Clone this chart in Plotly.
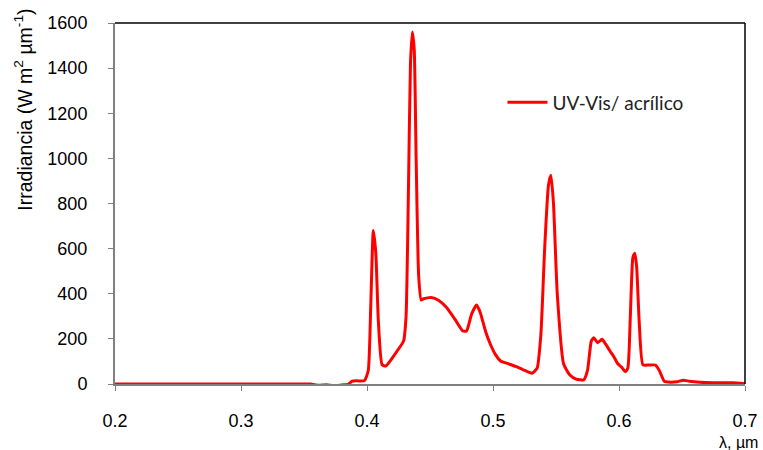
import plotly.graph_objects as go

wavelength = [0.20, 0.25, 0.30, 0.34, 0.355, 0.362, 0.368, 0.374, 0.380, 0.385, 0.388, 0.392, 0.398,
              0.401, 0.403, 0.405, 0.407, 0.409, 0.412, 0.415, 0.420, 0.425, 0.429, 0.431, 0.433,
              0.4345, 0.436, 0.4375, 0.439, 0.441, 0.443, 0.445, 0.451, 0.457, 0.463, 0.470, 0.476, 0.479, 0.483,
              0.487, 0.490, 0.494, 0.498, 0.502, 0.506, 0.512, 0.518, 0.524, 0.531, 0.535, 0.538,
              0.541, 0.544, 0.546, 0.548, 0.551, 0.556, 0.561, 0.566, 0.572, 0.575, 0.578, 0.580,
              0.583, 0.5865, 0.589, 0.593, 0.596, 0.599, 0.602, 0.605, 0.607, 0.609, 0.611, 0.6125,
              0.614, 0.616, 0.619, 0.624, 0.629, 0.632, 0.636, 0.641, 0.646, 0.651, 0.656, 0.664,
              0.675, 0.690, 0.700]
irradiance = [0, 0, 0, 0, 0, -6, -3, -8, -4, -2, 12, 14, 15,
              60, 350, 680, 580, 280, 85, 80, 115, 155, 190, 300, 900,
              1420, 1560, 1480, 1000, 480, 372, 378, 383, 370, 340, 285, 235, 235, 310,
              350, 315, 235, 175, 130, 102, 90, 78, 63, 48, 70, 220,
              600, 880, 925, 800, 400, 90, 40, 22, 18, 60, 190, 205,
              183, 198, 180, 145, 120, 90, 75, 55, 70, 300, 560, 580,
              520, 280, 85, 84, 84, 60, 12, 8, 10, 17, 12, 8,
              6, 5, 1]

series_name = "UV-Vis/ acrílico"
x_ticks = [0.2, 0.3, 0.4, 0.5, 0.6, 0.7]
y_ticks = [0, 200, 400, 600, 800, 1000, 1200, 1400, 1600]

fig = go.Figure()
fig.add_trace(go.Scatter(
    x=wavelength, y=irradiance, mode="lines", name=series_name,
    line=dict(color="#FF0000", width=3, shape="spline", smoothing=0.5),
))

axis_font = dict(family="Liberation Sans, Arial, sans-serif", size=18, color="#000")
fig.update_layout(
    width=763, height=450,
    margin=dict(l=115, r=18, t=23, b=66),
    paper_bgcolor="white", plot_bgcolor="white",
    showlegend=True,
    legend=dict(x=0.615, y=0.78, xanchor="left", yanchor="middle",
                bgcolor="rgba(0,0,0,0)", itemwidth=40,
                font=dict(family="Lato, sans-serif", size=19, color="#222")),
    xaxis=dict(range=[0.2, 0.7], tickvals=x_ticks, ticktext=[str(v) for v in x_ticks],
               showgrid=False, zeroline=False, showline=True, linecolor="#808080", linewidth=2,
               ticks="outside", ticklen=5, tickcolor="#808080", tickfont=axis_font,
               ticklabelstandoff=14, automargin=False),
    yaxis=dict(range=[0, 1600], tickvals=y_ticks, showgrid=False, zeroline=False,
               showline=True, linecolor="#808080", linewidth=2,
               ticks="outside", ticklen=5, tickcolor="#808080", tickfont=axis_font,
               ticklabelstandoff=17, automargin=False),
    shapes=[
        dict(type="line", xref="paper", yref="paper", x0=0, x1=1, y0=1, y1=1,
             line=dict(color="#000", width=1.5)),
        dict(type="line", xref="paper", yref="paper", x0=1, x1=1, y0=0, y1=1,
             line=dict(color="#000", width=1.5)),
    ],
    annotations=[
        dict(text="Irradiancia (W m<sup>2</sup> µm<sup>-1</sup>)", textangle=-90,
             xref="paper", yref="paper", x=-0.146, y=0.76, xanchor="center", yanchor="middle",
             showarrow=False, font=dict(family="Liberation Sans, Arial, sans-serif", size=19.5, color="#000")),
        dict(text="λ, µm", xref="paper", yref="paper", x=1.024, y=-0.163,
             xanchor="right", yanchor="middle", showarrow=False,
             font=dict(family="Liberation Sans, Arial, sans-serif", size=16, color="#000")),
    ],
)

fig.write_html("out.html")
